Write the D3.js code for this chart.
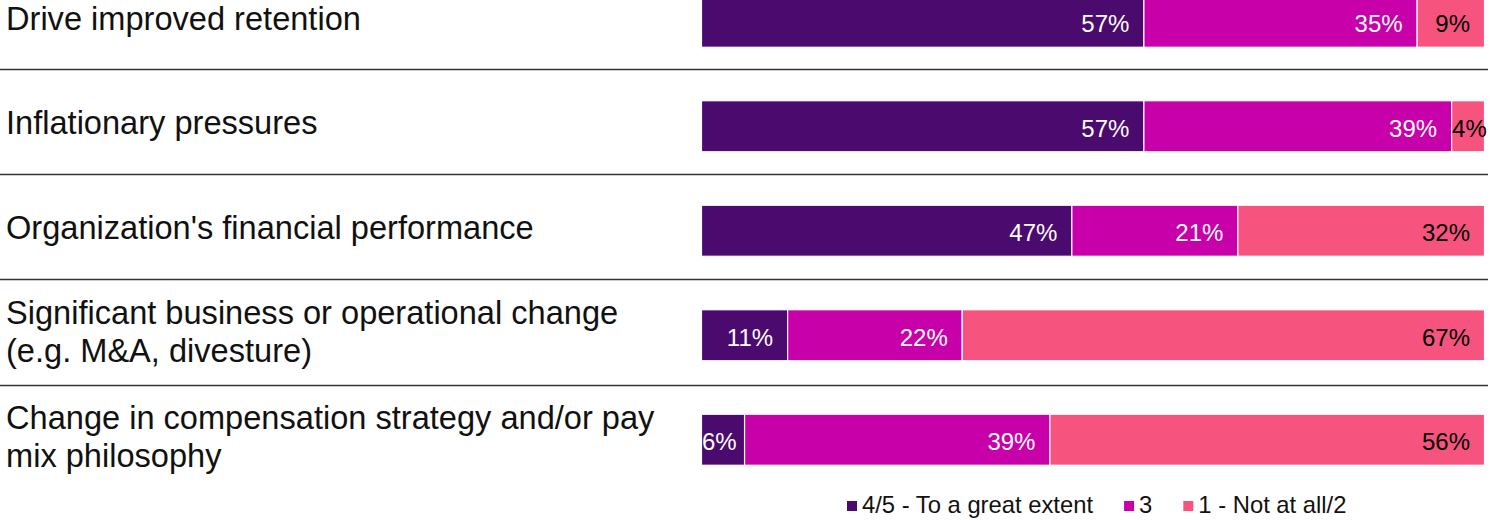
<!DOCTYPE html>
<html>
<head>
<meta charset="utf-8">
<script src="https://cdn.jsdelivr.net/npm/d3@7"></script>
<style>
  html, body { margin: 0; padding: 0; background: #fff; }
  svg { display: block; font-family: "Liberation Sans", Arial, sans-serif; }
</style>
</head>
<body>
<svg id="chart" width="1490" height="520"></svg>
<script>
// ---- data ----
const categories = [
  ["Drive improved retention"],
  ["Inflationary pressures"],
  ["Organization's financial performance"],
  ["Significant business or operational change", "(e.g. M&A, divesture)"],
  ["Change in compensation strategy and/or pay", "mix philosophy"]
];
const seriesNames = ["4/5 - To a great extent", "3", "1 - Not at all/2"];
const greatExtent = [56.5, 56.5, 47.3, 11.0, 5.5];
const moderate    = [34.9, 39.3, 21.2, 22.3, 39.0];
const notAtAll    = [8.6, 4.2, 31.5, 66.7, 55.5];
const colors = ["#4B0A6E", "#C800A9", "#F7537F"];
const labelColors = ["#ffffff", "#ffffff", "#000000"];

const keys = ["great", "mid", "low"];
const rows = categories.map((c, i) => ({
  id: i, lines: c, great: greatExtent[i], mid: moderate[i], low: notAtAll[i]
}));

const svg = d3.select("#chart");

const x = d3.scaleLinear().domain([0, 100]).range([701.5, 1484.5]);
const y = d3.scaleBand().domain(rows.map(r => r.id)).range([-30.5, 492]).padding(0);
const barH = 51;
const cy = id => y(id) + y.bandwidth() / 2;

const stacked = d3.stack().keys(keys)(rows);

// separators
svg.append("g").selectAll("line")
  .data(rows.slice(0, rows.length - 1))
  .join("line")
  .attr("x1", 0).attr("x2", 1488)
  .attr("y1", d => Math.round(cy(d.id) + 47.5 + d.id * 0.6) + 0.5)
  .attr("y2", d => Math.round(cy(d.id) + 47.5 + d.id * 0.6) + 0.5)
  .attr("stroke", "#333").attr("stroke-width", 1.4);

// category labels
const catG = svg.append("g");
rows.forEach(r => {
  const n = r.lines.length;
  const t = catG.append("text")
    .attr("font-size", 32.6).attr("fill", "#111");
  r.lines.forEach((ln, k) => {
    t.append("tspan")
      .attr("x", 6)
      .attr("y", cy(r.id) + 8 + (k - (n - 1) / 2) * 38)
      .text(ln);
  });
});

// bars
const layers = svg.append("g").selectAll("g")
  .data(stacked)
  .join("g")
  .attr("fill", (d, i) => colors[i]);

layers.selectAll("rect")
  .data(d => d)
  .join("rect")
  .attr("x", d => x(d[0]))
  .attr("width", d => x(d[1]) - x(d[0]))
  .attr("y", d => cy(d.data.id) - barH / 2)
  .attr("height", barH)
  .attr("stroke", "#fff")
  .attr("stroke-width", 1.2);

// value labels
stacked.forEach((layer, li) => {
  const g = svg.append("g");
  layer.forEach(d => {
    const v = d[1] - d[0];
    const t = g.append("text")
      .attr("font-size", 24)
      .attr("fill", labelColors[li])
      .attr("text-anchor", "start")
      .attr("y", cy(d.data.id) + 10.5)
      .text(Math.round(v) + "%");
    const w = t.node().getComputedTextLength();
    const xEnd = Math.max(x(d[1]) - 14.5, x(d[0]) + 0.5 + w);
    t.attr("x", xEnd - w);
  });
});

// legend
const leg = svg.append("g");
let lx = 847;
seriesNames.forEach((name, i) => {
  leg.append("rect")
    .attr("x", lx).attr("y", 501)
    .attr("width", 10).attr("height", 10)
    .attr("fill", colors[i]);
  const t = leg.append("text")
    .attr("x", lx + 15).attr("y", 513)
    .attr("font-size", 23.8).attr("fill", "#111")
    .text(name);
  lx += 15 + t.node().getComputedTextLength() + 31;
});
</script>
</body>
</html>
